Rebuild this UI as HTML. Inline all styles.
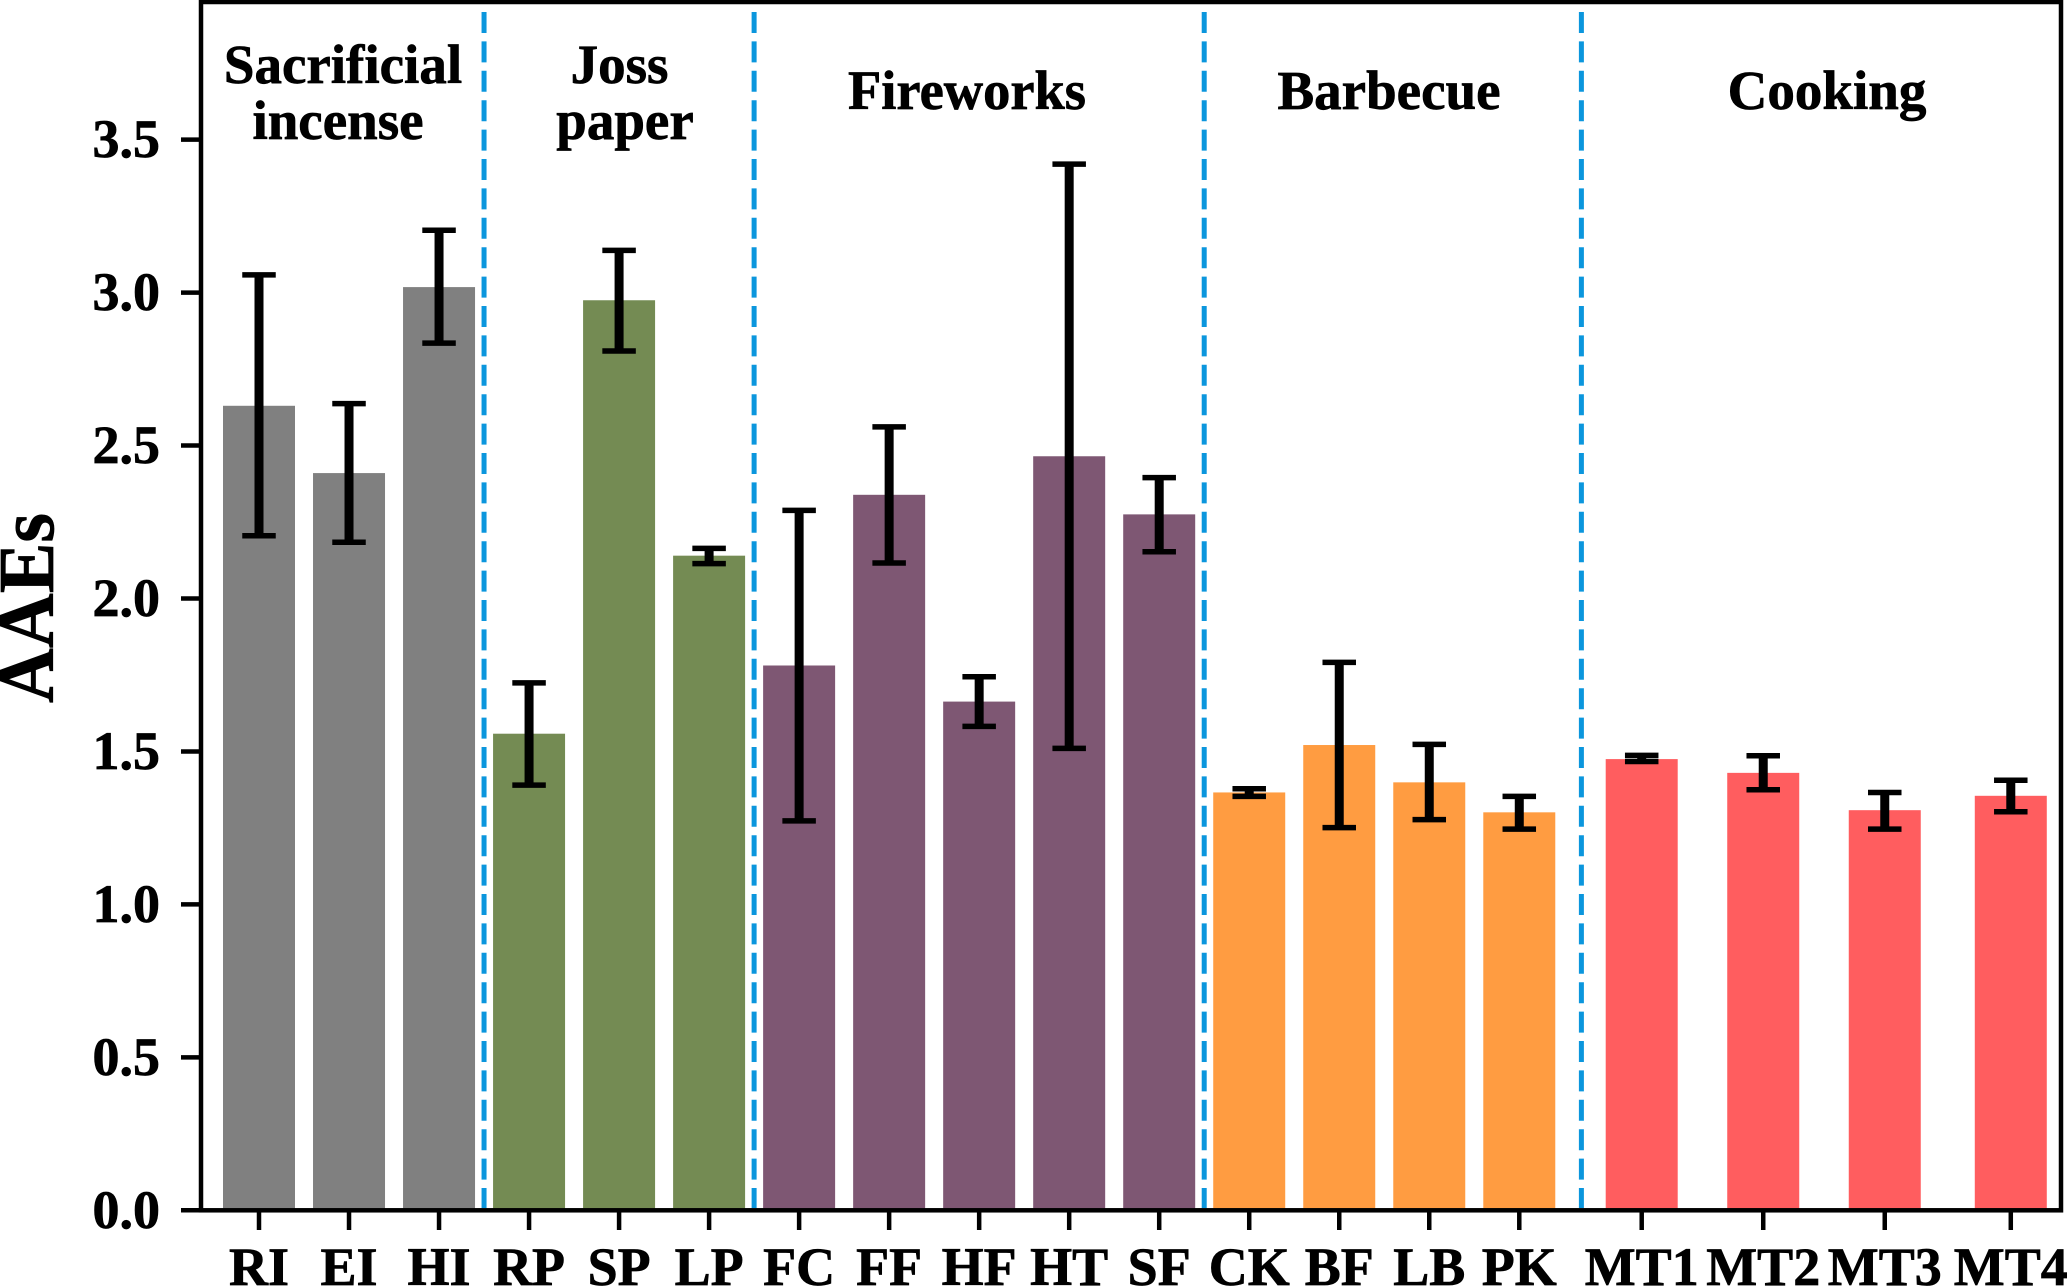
<!DOCTYPE html>
<html lang="en">
<head>
<meta charset="utf-8">
<title>AAEs by emission source</title>
<style>
html,body{margin:0;padding:0;background:#fff;}
body{width:2067px;height:1286px;overflow:hidden;}
svg{display:block;}
text{font-family:"Liberation Serif",serif;font-weight:bold;fill:#000;stroke:#000;stroke-width:0.7px;}
</style>
</head>
<body>
<svg id="chart" width="2067" height="1286" viewBox="0 0 2067 1286" xmlns="http://www.w3.org/2000/svg">
  <g id="bars"></g>
  <g id="separators"></g>
  <g id="errors"></g>
  <g id="ticks"></g>
  <rect x="201" y="2" width="1860" height="1208.3" fill="none" stroke="#000" stroke-width="4.5"/>
  <text transform="translate(53,608) rotate(-90) scale(1,1.05)" text-anchor="middle" font-size="76">AAEs</text>
  <g font-size="55" text-anchor="middle">
    <text x="343" y="83">Sacrificial</text>
    <text x="338" y="139">incense</text>
    <text x="619.5" y="83">Joss</text>
    <text x="625" y="139">paper</text>
    <text x="967" y="109" textLength="238" lengthAdjust="spacingAndGlyphs">Fireworks</text>
    <text x="1389" y="109">Barbecue</text>
    <text x="1827" y="109">Cooking</text>
  </g>
</svg>
<script>
const categories = ["RI","EI","HI","RP","SP","LP","FC","FF","HF","HT","SF","CK","BF","LB","PK","MT1","MT2","MT3","MT4"];
const xValues = [0,1,2,3,4,5,6,7,8,9,10,11,12,13,14,15.36,16.71,18.06,19.46];
const means = [2.63,2.41,3.018,1.558,2.975,2.14,1.781,2.339,1.663,2.465,2.275,1.366,1.521,1.399,1.301,1.475,1.43,1.308,1.355];
const errorUpper = [3.058,2.637,3.204,1.724,3.138,2.164,2.288,2.561,1.744,3.42,2.395,1.378,1.791,1.523,1.353,1.487,1.486,1.366,1.406];
const errorLower = [2.205,2.184,2.835,1.39,2.809,2.114,1.273,2.116,1.582,1.51,2.153,1.353,1.251,1.277,1.246,1.467,1.375,1.246,1.303];
const groupIndex = [0,0,0,1,1,1,2,2,2,2,2,3,3,3,3,4,4,4,4];
const groupColors = ["#808080","#748b53","#7e5773","#ff9c41","#ff5d5f"];
const separators = [2.5,5.5,10.5,14.69];
const yTicks = [0,0.5,1,1.5,2,2.5,3,3.5];
const yTickLabels = ["0.0","0.5","1.0","1.5","2.0","2.5","3.0","3.5"];

const SVGNS = "http://www.w3.org/2000/svg";
const xScale = u => 259 + 90.02 * u;
const yScale = v => 1210.3 - 305.9 * v;
const BAR_W = 72, CAP_W = 33.5, CAP_T = 5.5, STEM_W = 9;

function make(parent, tag, attrs) {
  const el = document.createElementNS(SVGNS, tag);
  for (const k in attrs) el.setAttribute(k, attrs[k]);
  parent.appendChild(el);
  return el;
}

const barsG = document.getElementById("bars");
const errG = document.getElementById("errors");
const tickG = document.getElementById("ticks");
const sepG = document.getElementById("separators");

categories.forEach((cat, i) => {
  const cx = xScale(xValues[i]);
  const top = yScale(means[i]);
  const bar = make(barsG, "rect", {x: cx - BAR_W / 2, y: top, width: BAR_W, height: yScale(0) - top, fill: groupColors[groupIndex[i]]});
  
  

  const yU = yScale(errorUpper[i]);
  const yL = yScale(errorLower[i]);
  const stem = make(errG, "line", {x1: cx, x2: cx, y1: yU, y2: yL, stroke: "#000", "stroke-width": STEM_W});
  
  
  const capU = make(errG, "line", {x1: cx - CAP_W / 2, x2: cx + CAP_W / 2, y1: yU, y2: yU, stroke: "#000", "stroke-width": CAP_T});
  
  
  const capL = make(errG, "line", {x1: cx - CAP_W / 2, x2: cx + CAP_W / 2, y1: yL, y2: yL, stroke: "#000", "stroke-width": CAP_T});
  
  

  const tick = make(tickG, "line", {x1: cx, x2: cx, y1: 1210, y2: 1230, stroke: "#000", "stroke-width": 4.5});
  
  
  const label = make(tickG, "text", {x: cx, y: 1285, "text-anchor": "middle", "font-size": 54});
  
  
  label.textContent = cat;
});

separators.forEach((s, i) => {
  const sx = xScale(s);
  const sep = make(sepG, "line", {x1: sx, x2: sx, y1: 12, y2: 1208, stroke: "#0b96dd", "stroke-width": 5, "stroke-dasharray": "21 8.4"});
  
  
});

yTicks.forEach((t, i) => {
  const y = yScale(t);
  const tick = make(tickG, "line", {x1: 181, x2: 201, y1: y, y2: y, stroke: "#000", "stroke-width": 4.5});
  
  
  const label = make(tickG, "text", {x: 160, y: y + 17.5, "text-anchor": "end", "font-size": 54});
  
  
  label.textContent = yTickLabels[i];
});
</script>
</body>
</html>
